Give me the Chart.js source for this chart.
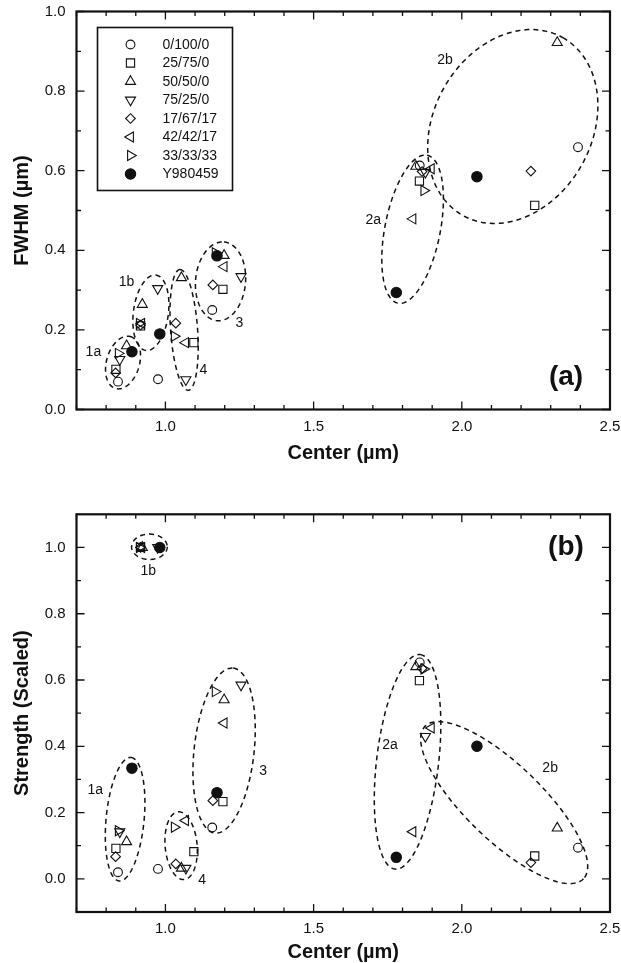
<!DOCTYPE html>
<html>
<head>
<meta charset="utf-8">
<script src="https://cdn.jsdelivr.net/npm/chart.js@4.4.0/dist/chart.umd.min.js"></script>
<style>
  html, body { margin: 0; padding: 0; background: #fff; }
  #wrap { position: relative; width: 621px; height: 963px; }
  canvas { position: absolute; left: 0; }
  #chartA { top: 0; }
  #chartB { top: 470px; }
</style>
</head>
<body>
<div id="wrap">
  <canvas id="chartA" width="621" height="470"></canvas>
  <canvas id="chartB" width="621" height="493"></canvas>
</div>
<script>
// Zusammensetzungen (Legende)
const seriesNames = ['0/100/0', '25/75/0', '50/50/0', '75/25/0', '17/67/17', '42/42/17', '33/33/33', 'Y980459'];

// Bandzentren (µm), FWHM (µm) und Staerke (skaliert) je Serie
const center_0_100_0 = [0.840, 0.975, 1.158, 1.858, 2.392];
const fwhm_0_100_0   = [0.070, 0.076, 0.250, 0.613, 0.659];
const str_0_100_0    = [0.020, 0.030, 0.155, 0.653, 0.094];

const center_25_75_0 = [0.833, 0.916, 1.096, 1.194, 1.857, 2.246];
const fwhm_25_75_0   = [0.101, 0.210, 0.168, 0.302, 0.574, 0.513];
const str_25_75_0    = [0.092, 1.000, 0.082, 0.233, 0.598, 0.069];

const center_50_50_0 = [0.869, 0.922, 1.054, 1.198, 1.845, 2.322];
const fwhm_50_50_0   = [0.160, 0.264, 0.331, 0.387, 0.611, 0.922];
const str_50_50_0    = [0.112, 1.000, 0.032, 0.540, 0.640, 0.153];

const center_75_25_0 = [0.846, 0.974, 1.069, 1.255, 1.877];
const fwhm_75_25_0   = [0.126, 0.304, 0.075, 0.334, 0.596];
const str_75_25_0    = [0.142, 1.000, 0.032, 0.585, 0.430];

const center_17_67_17 = [0.832, 0.916, 1.035, 1.160, 1.866, 2.233];
const fwhm_17_67_17   = [0.092, 0.212, 0.217, 0.313, 0.598, 0.599];
const str_17_67_17    = [0.067, 1.000, 0.045, 0.236, 0.635, 0.049];

const center_42_42_17 = [0.920, 1.068, 1.198, 1.835, 1.897];
const fwhm_42_42_17   = [0.216, 0.168, 0.359, 0.479, 0.605];
const str_42_42_17    = [1.000, 0.176, 0.470, 0.142, 0.455];

const center_33_33_33 = [0.841, 0.912, 1.030, 1.168, 1.872];
const fwhm_33_33_33   = [0.141, 0.216, 0.184, 0.394, 0.550];
const str_33_33_33    = [0.145, 1.000, 0.156, 0.565, 0.633];

const center_Y980459 = [0.887, 0.981, 1.174, 1.779, 2.051];
const fwhm_Y980459   = [0.145, 0.190, 0.386, 0.294, 0.585];
const str_Y980459    = [0.334, 1.000, 0.260, 0.065, 0.400];

const centers = [center_0_100_0, center_25_75_0, center_50_50_0, center_75_25_0,
                 center_17_67_17, center_42_42_17, center_33_33_33, center_Y980459];
const fwhms = [fwhm_0_100_0, fwhm_25_75_0, fwhm_50_50_0, fwhm_75_25_0,
               fwhm_17_67_17, fwhm_42_42_17, fwhm_33_33_33, fwhm_Y980459];
const strengths = [str_0_100_0, str_25_75_0, str_50_50_0, str_75_25_0,
                   str_17_67_17, str_42_42_17, str_33_33_33, str_Y980459];

// Achsenbeschriftungen
const xTickVals = [1.0, 1.5, 2.0, 2.5];
const yTickVals = [0.0, 0.2, 0.4, 0.6, 0.8, 1.0];

// Cluster-Ellipsen in Datenkoordinaten: Mittelpunkt c, Halbachsen-Vektoren u und v
const clustersA = [
  { c: [0.857, 0.118], u: [0.0251, 0.0652], v: [0.0535, -0.0114] },   // 1a
  { c: [0.951, 0.243], u: [0.0167, 0.0947], v: [0.0585, -0.0057] },   // 1b
  { c: [1.063, 0.200], u: [-0.0143, 0.1517], v: [0.0454, 0.0024] },   // 4
  { c: [1.186, 0.322], u: [0.0116, 0.0989], v: [0.0840, -0.0055] },   // 3
  { c: [1.834, 0.453], u: [0.0490, 0.1859], v: [0.0917, -0.0134] },   // 2a
  { c: [2.172, 0.711], u: [0.1689, 0.2233], v: [0.2322, -0.0974] }    // 2b
];
const clusterLabelsA = [
  { text: '1a', x: 0.757, y: 0.145 }, { text: '1b', x: 0.869, y: 0.321 },
  { text: '4', x: 1.128, y: 0.098 },  { text: '3', x: 1.250, y: 0.217 },
  { text: '2a', x: 1.701, y: 0.476 }, { text: '2b', x: 1.943, y: 0.878 }
];

const clustersB = [
  { c: [0.864, 0.180], u: [0.0200, 0.1862], v: [0.0638, -0.0055] },   // 1a
  { c: [0.946, 1.002], u: [0.0601, 0.0], v: [0.0, -0.0383] },         // 1b
  { c: [1.053, 0.100], u: [-0.0100, 0.1022], v: [0.0538, 0.0042] },   // 4
  { c: [1.198, 0.387], u: [0.0307, 0.2489], v: [0.1006, -0.0099] },   // 3
  { c: [1.817, 0.353], u: [0.0425, 0.3236], v: [0.1039, -0.0109] },   // 2a
  { c: [2.143, 0.230], u: [0.2674, -0.2301], v: [-0.0889, -0.0826] }  // 2b
];
const clusterLabelsB = [
  { text: '1a', x: 0.763, y: 0.268 }, { text: '1b', x: 0.942, y: 0.927 },
  { text: '4', x: 1.124, y: -0.005 }, { text: '3', x: 1.330, y: 0.324 },
  { text: '2a', x: 1.758, y: 0.404 }, { text: '2b', x: 2.298, y: 0.334 }
];

// Symbole je Serie (offen, ausser Y980459)
const markerStyles = [
  { pointStyle: 'circle', rotation: 0, radius: 4.4, fill: 'rgba(0,0,0,0)' },
  { pointStyle: 'rect', rotation: 0, radius: 5.8, fill: 'rgba(0,0,0,0)' },
  { pointStyle: 'triangle', rotation: 0, radius: 5.8, fill: 'rgba(0,0,0,0)' },
  { pointStyle: 'triangle', rotation: 180, radius: 5.8, fill: 'rgba(0,0,0,0)' },
  { pointStyle: 'rectRot', rotation: 0, radius: 4.8, fill: 'rgba(0,0,0,0)' },
  { pointStyle: 'triangle', rotation: 270, radius: 5.8, fill: 'rgba(0,0,0,0)' },
  { pointStyle: 'triangle', rotation: 90, radius: 5.8, fill: 'rgba(0,0,0,0)' },
  { pointStyle: 'circle', rotation: 0, radius: 5.2, fill: '#111' }
];

const FONT = '"Liberation Sans", Arial, Helvetica, sans-serif';
const INK = '#111';

// Rahmen mit nach innen zeigenden Ticks auf allen vier Seiten
const frameTicks = {
  id: 'frameTicks',
  afterDraw(chart) {
    const { ctx, chartArea: a, scales: { x, y } } = chart;
    ctx.save();
    ctx.strokeStyle = INK;
    ctx.lineWidth = 1.3;
    for (let i = Math.ceil(x.min * 10 - 1e-6); i <= Math.floor(x.max * 10 + 1e-6); i++) {
      const px = x.getPixelForValue(i / 10);
      const len = i % 5 === 0 ? 8 : 4.5;
      ctx.beginPath();
      ctx.moveTo(px, a.bottom); ctx.lineTo(px, a.bottom - len);
      ctx.moveTo(px, a.top); ctx.lineTo(px, a.top + len);
      ctx.stroke();
    }
    for (let i = Math.ceil(y.min * 10 - 1e-6); i <= Math.floor(y.max * 10 + 1e-6); i++) {
      const py = y.getPixelForValue(i / 10);
      const len = i % 2 === 0 ? 8 : 4.5;
      ctx.beginPath();
      ctx.moveTo(a.left, py); ctx.lineTo(a.left + len, py);
      ctx.moveTo(a.right, py); ctx.lineTo(a.right - len, py);
      ctx.stroke();
    }
    ctx.lineWidth = 2.2;
    ctx.strokeRect(a.left, a.top, a.right - a.left, a.bottom - a.top);
    ctx.restore();
  }
};

// gestrichelte Ellipsen um die Bandgruppen
function clusterPlugin(list, labels) {
  return {
    id: 'clusters',
    afterDatasetsDraw(chart) {
      const { ctx, scales: { x, y } } = chart;
      ctx.save();
      ctx.strokeStyle = INK;
      ctx.lineWidth = 1.5;
      ctx.setLineDash([5, 4]);
      list.forEach(e => {
        ctx.beginPath();
        for (let k = 0; k <= 144; k++) {
          const t = k / 144 * Math.PI * 2;
          const dx = e.c[0] + Math.cos(t) * e.u[0] + Math.sin(t) * e.v[0];
          const dy = e.c[1] + Math.cos(t) * e.u[1] + Math.sin(t) * e.v[1];
          const px = x.getPixelForValue(dx), py = y.getPixelForValue(dy);
          if (k === 0) ctx.moveTo(px, py); else ctx.lineTo(px, py);
        }
        ctx.closePath();
        ctx.stroke();
      });
      ctx.setLineDash([]);
      ctx.fillStyle = INK;
      ctx.font = '14px ' + FONT;
      ctx.textAlign = 'center';
      ctx.textBaseline = 'middle';
      labels.forEach(l => ctx.fillText(l.text, x.getPixelForValue(l.x), y.getPixelForValue(l.y)));
      ctx.restore();
    }
  };
}

// Panel-Kennung (a) / (b)
function panelLabel(text, fromBottom) {
  return {
    id: 'panelLabel',
    afterDraw(chart) {
      const { ctx, chartArea: a } = chart;
      ctx.save();
      ctx.fillStyle = INK;
      ctx.font = 'bold 28px ' + FONT;
      ctx.textAlign = 'center';
      ctx.textBaseline = 'middle';
      const py = fromBottom ? a.bottom - 32 : a.top + 33;
      ctx.fillText(text, a.right - 44, py);
      ctx.restore();
    }
  };
}

// Legende im Diagrammfeld mit Rahmen
const boxLegend = {
  id: 'boxLegend',
  afterDraw(chart) {
    const { ctx, chartArea: a } = chart;
    const left = a.left + 21, top = a.top + 16;
    ctx.save();
    ctx.strokeStyle = INK;
    ctx.lineWidth = 1.6;
    ctx.strokeRect(left, top, 135, 163);
    ctx.font = '14px ' + FONT;
    ctx.textBaseline = 'middle';
    ctx.textAlign = 'left';
    seriesNames.forEach((name, i) => {
      const m = markerStyles[i];
      const py = top + 17 + i * 18.5;
      ctx.fillStyle = m.fill;
      ctx.lineWidth = 1.1;
      if (Chart.helpers && Chart.helpers.drawPoint) {
        Chart.helpers.drawPoint(ctx, { pointStyle: m.pointStyle, rotation: m.rotation, radius: m.radius, borderWidth: 1.1 }, left + 33, py);
      }
      ctx.fillStyle = INK;
      ctx.fillText(name, left + 65, py + 0.5);
    });
    ctx.restore();
  }
};

function buildDatasets(values) {
  return seriesNames.map((name, i) => ({
    label: name,
    data: centers[i].map((cx, j) => ({ x: cx, y: values[i][j] })),
    pointStyle: markerStyles[i].pointStyle,
    rotation: markerStyles[i].rotation,
    pointRadius: markerStyles[i].radius,
    backgroundColor: markerStyles[i].fill,
    borderColor: INK,
    borderWidth: 1.1
  }));
}

function makeChart(canvasId, values, cfg) {
  const ctx = document.getElementById(canvasId).getContext('2d');
  return new Chart(ctx, {
    type: 'scatter',
    data: { datasets: buildDatasets(values) },
    options: {
      responsive: false,
      animation: false,
      devicePixelRatio: 1,
      layout: { padding: { left: 0, right: 11, top: cfg.padTop, bottom: 0 } },
      plugins: { legend: { display: false }, tooltip: { enabled: false } },
      scales: {
        x: {
          type: 'linear', min: 0.7, max: 2.5,
          grid: { display: false, drawTicks: false },
          border: { display: false },
          afterBuildTicks: s => { s.ticks = xTickVals.map(v => ({ value: v })); },
          afterFit: s => { s.height = cfg.xHeight; s.paddingLeft = 0; s.paddingRight = 0; },
          ticks: { color: INK, padding: 8, font: { family: FONT, size: 15 }, callback: v => v.toFixed(1), maxRotation: 0 },
          title: { display: true, text: 'Center (µm)', color: INK, padding: { top: 0, bottom: cfg.xTitlePad },
                   font: { family: FONT, size: 20, weight: 'bold', lineHeight: 1.0 } }
        },
        y: {
          type: 'linear', min: cfg.yMin, max: cfg.yMax,
          grid: { display: false, drawTicks: false },
          border: { display: false },
          afterBuildTicks: s => { s.ticks = yTickVals.map(v => ({ value: v })); },
          afterFit: s => { s.width = 76.5; s.paddingTop = 0; s.paddingBottom = 0; },
          ticks: { color: INK, padding: 11, font: { family: FONT, size: 15 }, callback: v => v.toFixed(1) },
          title: { display: true, text: cfg.yTitle, color: INK, padding: { top: 12, bottom: 0 },
                   font: { family: FONT, size: 20, weight: 'bold', lineHeight: 1.0 } }
        }
      }
    },
    plugins: cfg.plugins
  });
}

makeChart('chartA', fwhms, {
  padTop: 11.5, xHeight: 60.5, xTitlePad: 6.5, yMin: 0, yMax: 1.0, yTitle: 'FWHM (µm)',
  plugins: [frameTicks, clusterPlugin(clustersA, clusterLabelsA), panelLabel('(a)', true), boxLegend]
});

makeChart('chartB', strengths, {
  padTop: 44.3, xHeight: 51, xTitlePad: 1, yMin: -0.1, yMax: 1.1, yTitle: 'Strength (Scaled)',
  plugins: [frameTicks, clusterPlugin(clustersB, clusterLabelsB), panelLabel('(b)', false)]
});
</script>
</body>
</html>
